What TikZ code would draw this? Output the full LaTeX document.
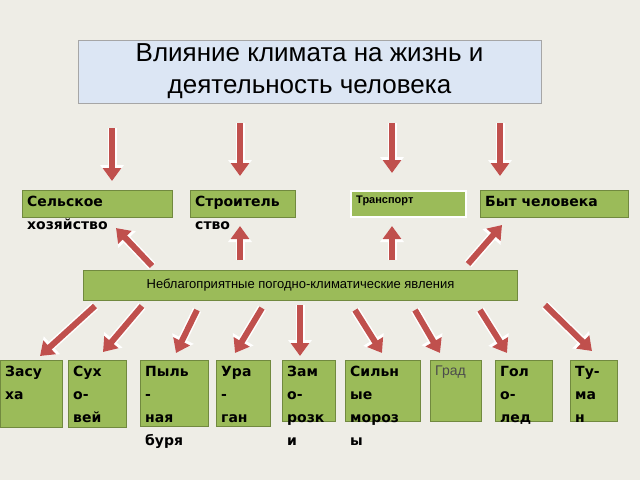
\documentclass[tikz,border=0pt]{standalone}
\usepackage{fontspec}
\setmainfont{Liberation Sans}
\newfontfamily\boxfont{DejaVu Sans}
\usetikzlibrary{arrows.meta}
\definecolor{bgbeige}{HTML}{EEEDE6}
\definecolor{leafgreen}{HTML}{9BBB59}
\definecolor{leafedge}{HTML}{71893F}
\definecolor{arrowred}{HTML}{C0504D}
\definecolor{titleblue}{HTML}{DCE6F4}
\tikzset{
  cellbox/.style={draw=leafedge, fill=leafgreen, line width=1pt, inner sep=0pt, anchor=north west},
  celltext/.style={anchor=north west, inner sep=0pt, align=left, font=\boxfont\bfseries\fontsize{14}{23}\selectfont},
  blockarrow/.style={draw=arrowred, line width=6pt, -{Triangle[width=18pt,length=13pt]},
    preaction={draw=white, line width=9pt, -{Triangle[width=23pt,length=16pt]}}}
}
% box with its text set from the top left corner
\newcommand{\cell}[6]{%
  \node[cellbox, minimum width=#4, minimum height=#5] (#1) at (#2,#3) {};
  \node[celltext] (#1t) at ([xshift=5pt,yshift=-6pt]#1.north west) {#6};
}
\begin{document}
\begin{tikzpicture}[x=1pt,y=-1pt]
  \fill[bgbeige] (0,0) rectangle (640,480);
  \useasboundingbox (0,0) rectangle (640,480);
  % title
  \node[draw=black!35, fill=titleblue, minimum width=463pt, minimum height=63pt, align=center,
    font=\fontsize{26}{32}\selectfont] (title) at (309.5,71.5)
    {Влияние климата на жизнь и\\деятельность человека};
  % spheres
  \cell{farm}{22}{190}{150pt}{27pt}{Сельское\\хозяйство}
  \cell{build}{190}{190}{105pt}{27pt}{Строитель\\ство}
  \node[draw=white, fill=leafgreen, line width=2pt, minimum width=115pt, minimum height=26pt,
    anchor=north west] (trans) at (350,190) {};
  \node[anchor=north west, inner sep=0pt, font=\fontsize{11}{13}\selectfont\bfseries] (transt)
    at ([xshift=6pt,yshift=-6pt]trans.north west) {Транспорт};
  \cell{life}{480}{190}{148pt}{27pt}{Быт человека}
  % phenomena
  \node[cellbox, minimum width=434pt, minimum height=30pt, font=\fontsize{13}{15}\selectfont]
    (bad) at (83,270) {Неблагоприятные погодно-климатические явления};
  % hazards
  \cell{drought}{0}{360}{62pt}{67pt}{Засу\\ха}
  \cell{wind}{68}{360}{58pt}{67pt}{Сух\\о-\\вей}
  \cell{dust}{140}{360}{68pt}{66pt}{Пыль\\-\\ная\\буря}
  \cell{storm}{216}{360}{54pt}{66pt}{Ура\\-\\ган}
  \cell{frost}{282}{360}{53pt}{61pt}{Зам\\о-\\розк\\и}
  \cell{cold}{345}{360}{75pt}{61pt}{Сильн\\ые\\мороз\\ы}
  \node[cellbox, minimum width=51pt, minimum height=61pt] (hail) at (430,360) {};
  \node[anchor=north west, inner sep=0pt, font=\fontsize{14}{16}\selectfont, text=black!70] (hailt)
    at ([xshift=5pt,yshift=-6pt]hail.north west) {Град};
  \cell{ice}{495}{360}{57pt}{61pt}{Гол\\о-\\лед}
  \cell{fog}{570}{360}{47pt}{61pt}{Ту-\\ма\\н}
  % arrows from the title
  \foreach \x/\ya/\yb in {112/128/181, 240/123/176, 392/123/173, 500/123/176}
    \draw[blockarrow] (\x,\ya) -- (\x,\yb);
  % arrows up to the spheres
  \foreach \xa/\ya/\xb/\yb in {152/266/116/228, 240/260/240/226, 392/260/392/226, 468/264/502/225}
    \draw[blockarrow] (\xa,\ya) -- (\xb,\yb);
  % arrows down to the hazards
  \foreach \xa/\ya/\xb/\yb in {95/306/40/356, 142/306/103/352, 197/310/176/353, 262/308/235/353,
      300/305/300/356, 355/310/382/353, 415/310/440/353, 480/310/507/353, 545/305/592/351}
    \draw[blockarrow] (\xa,\ya) -- (\xb,\yb);
\end{tikzpicture}
\end{document}
